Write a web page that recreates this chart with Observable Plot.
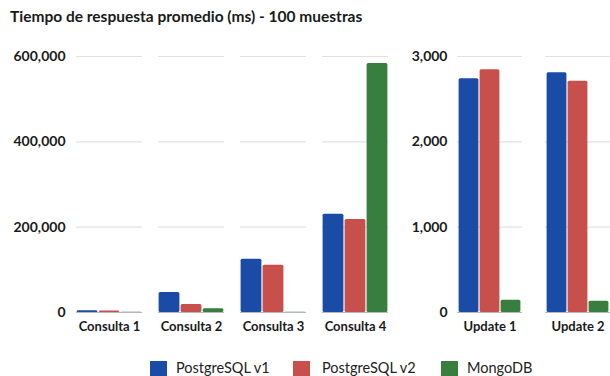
<!DOCTYPE html>
<html><head><meta charset="utf-8">
<script src="https://cdn.jsdelivr.net/npm/d3@7"></script>
<script src="https://cdn.jsdelivr.net/npm/@observablehq/plot@0.6"></script>
<style>
html,body{margin:0;background:#fff}
body{font-family:Lato,"Open Sans",sans-serif;width:610px;height:376px;position:relative;overflow:hidden}
#title{position:absolute;left:10px;top:7px;font-size:15.5px;font-weight:bold;color:#1a1a1a}
#left{position:absolute;left:0;top:36px}
#right{position:absolute;left:400px;top:36px}
#legend{position:absolute;left:0;top:0;width:610px;height:376px;font-size:14.5px;color:#222}
.sw{position:absolute;top:361px;width:17px;height:17px}
.lt{position:absolute;top:358px;line-height:19px}
</style></head><body>
<div id="title">Tiempo de respuesta promedio (ms) - 100 muestras</div>
<div id="left"></div><div id="right"></div>
<div id="legend"></div>
<script>
const series = ["PostgreSQL v1", "PostgreSQL v2", "MongoDB"];
const colors = ["#1a4ba6", "#c8504c", "#377e3f"];
const queries = ["Consulta 1", "Consulta 2", "Consulta 3", "Consulta 4"];
const pg1Queries = [4000, 47000, 125000, 230000];
const pg2Queries = [3500, 19000, 111000, 218000];
const mongoQueries = [600, 9000, 400, 583500];
const updates = ["Update 1", "Update 2"];
const pg1Updates = [2739, 2810];
const pg2Updates = [2845, 2711];
const mongoUpdates = [144, 132];

function rows(groups, a, b, c) {
  const out = [];
  groups.forEach((g, i) => {
    out.push({g, s: series[0], v: a[i]});
    out.push({g, s: series[1], v: b[i]});
    out.push({g, s: series[2], v: c[i]});
  });
  return out;
}
const font = 'Lato, "Open Sans", sans-serif';
const fmt = d3.format(",");
function make(data, groups, width, marginLeft, marginRight, ymax, padInner, tickPad) {
  return Plot.plot({
    width, height: 300,
    marginTop: 20, marginBottom: 24, marginLeft, marginRight,
    style: {fontFamily: font, fontSize: "13px", fontWeight: "bold", color: "#1a1a1a", background: "white"},
    x: {domain: series, axis: null, padding: 0},
    fx: {domain: groups, paddingInner: padInner, paddingOuter: 0, label: null, axis: null},
    y: {domain: [0, ymax], label: null, axis: null},
    color: {domain: series, range: colors},
    marks: [
      Plot.gridY({ticks: 4, stroke: "#e2e2e2", strokeOpacity: 1, strokeWidth: 1.2}),
      Plot.axisY({ticks: 4, tickFormat: fmt, tickSize: 0, tickPadding: tickPad, label: null, fontSize: 14, fontWeight: "bold"}),
      Plot.barY(data, {fx: "g", x: "s", y: "v", fill: "s", insetLeft: 0.6, insetRight: 0.6, rx: 1.5}),
      Plot.ruleY([0], {stroke: "#b8b8b8", strokeWidth: 1.2}),
      Plot.axisFx({anchor: "bottom", tickSize: 0, tickPadding: 9, label: null, fontSize: 13, fontWeight: "bold"})
    ]
  });
}
document.getElementById("left").append(
  make(rows(queries, pg1Queries, pg2Queries, mongoQueries), queries, 400, 76, 11, 600000, 0.19, 11));
document.getElementById("right").append(
  make(rows(updates, pg1Updates, pg2Updates, mongoUpdates), updates, 210, 57, 0, 3000, 0.264, 10));

const lg = document.getElementById("legend");
const swX = [150, 293, 441], txX = [176, 322, 467];
series.forEach((s, i) => {
  const sw = document.createElement("div");
  sw.className = "sw"; sw.style.left = swX[i] + "px"; sw.style.background = colors[i];
  const t = document.createElement("div");
  t.className = "lt"; t.style.left = txX[i] + "px"; t.textContent = s;
  lg.append(sw, t);
});
</script>
</body></html>
